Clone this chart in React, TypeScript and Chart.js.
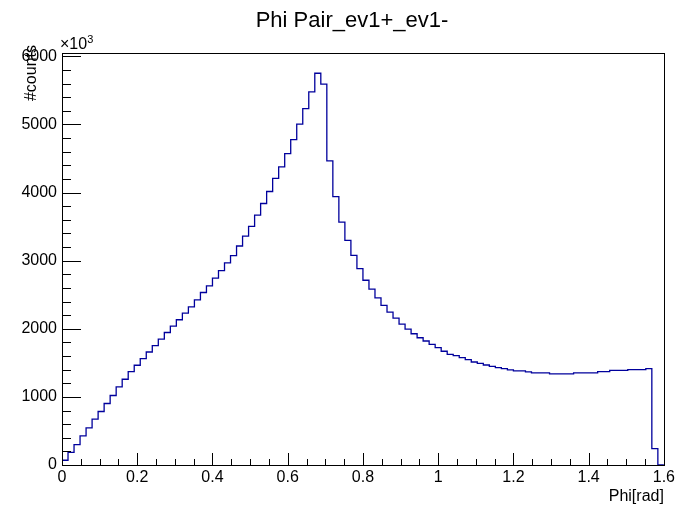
import React, { useEffect, useRef } from "react";
import { Chart, registerables } from "chart.js";

Chart.register(...registerables);

const TITLE = "Phi Pair_ev1+_ev1-";
const X_TITLE = "Phi[rad]";
const Y_TITLE = "#counts";
const Y_EXPONENT = "3";

const X_MIN = 0;
const X_MAX = 1.6;
const BIN_WIDTH = 0.016;
const Y_MIN = 0;
const Y_MAX = 6048;

const X_TICKS = [0, 0.2, 0.4, 0.6, 0.8, 1, 1.2, 1.4, 1.6];
const X_MINOR_STEP = 0.05;
const Y_TICKS = [0, 1000, 2000, 3000, 4000, 5000, 6000];
const Y_MINOR_STEP = 200;

const COUNTS = [
  70, 185, 298, 429, 546, 673, 785, 903, 1020, 1146,
  1259, 1371, 1464, 1561, 1659, 1751, 1849, 1945, 2039, 2132,
  2229, 2322, 2425, 2532, 2629, 2742, 2854, 2966, 3073, 3215,
  3361, 3503, 3668, 3839, 4015, 4208, 4376, 4571, 4776, 5005,
  5230, 5478, 5751, 5591, 4464, 3940, 3566, 3298, 3078, 2883,
  2712, 2581, 2454, 2342, 2244, 2156, 2068, 1995, 1927, 1868,
  1820, 1771, 1722, 1670, 1624, 1605, 1576, 1546, 1512, 1493,
  1468, 1449, 1429, 1415, 1395, 1381, 1381, 1366, 1351, 1351,
  1351, 1337, 1337, 1337, 1337, 1351, 1351, 1351, 1351, 1371,
  1371, 1390, 1390, 1390, 1400, 1400, 1400, 1415, 240, 0,
];

const FONT = "'Liberation Sans', Arial, Helvetica, sans-serif";
const LINE_COLOR = "#00009c";

const rootStylePlugin = {
  id: "rootStyle",
  afterDraw(chart: any) {
    const { ctx, chartArea } = chart;
    const xs = chart.scales.x;
    const ys = chart.scales.y;
    const L = chartArea.left;
    const R = chartArea.right;
    const T = chartArea.top;
    const B = chartArea.bottom;
    ctx.save();
    ctx.strokeStyle = "#000";
    ctx.lineWidth = 1;
    // frame
    ctx.strokeRect(Math.round(L) + 0.5, Math.round(T) + 0.5, Math.round(R - L), Math.round(B - T));
    // x ticks (inside, from bottom)
    ctx.beginPath();
    const nx = Math.round((X_MAX - X_MIN) / X_MINOR_STEP);
    for (let i = 0; i <= nx; i++) {
      const v = X_MIN + i * X_MINOR_STEP;
      const px = Math.round(xs.getPixelForValue(v)) + 0.5;
      const major = i % 4 === 0;
      const len = major ? 12 : 6;
      ctx.moveTo(px, B);
      ctx.lineTo(px, B - len);
    }
    // y ticks (inside, from left)
    const ny = Math.floor((Y_MAX - Y_MIN) / Y_MINOR_STEP);
    for (let i = 0; i <= ny; i++) {
      const v = Y_MIN + i * Y_MINOR_STEP;
      const py = Math.round(ys.getPixelForValue(v)) + 0.5;
      const major = i % 5 === 0;
      const len = major ? 19 : 9;
      ctx.moveTo(L, py);
      ctx.lineTo(L + len, py);
    }
    ctx.stroke();

    ctx.fillStyle = "#000";
    // title
    ctx.font = `22px ${FONT}`;
    ctx.textAlign = "center";
    ctx.textBaseline = "alphabetic";
    ctx.fillText(TITLE, 352, 27);
    // x title
    ctx.font = `16px ${FONT}`;
    ctx.textAlign = "right";
    ctx.fillText(X_TITLE, R, 501);
    // y exponent
    ctx.textAlign = "left";
    ctx.fillText("\u00d710", L - 2, 49);
    const w = ctx.measureText("\u00d710").width;
    ctx.font = `11px ${FONT}`;
    ctx.fillText(Y_EXPONENT, L - 2 + w, 43);
    // y title
    ctx.font = `16px ${FONT}`;
    ctx.translate(36, T - 8);
    ctx.rotate(-Math.PI / 2);
    ctx.textAlign = "right";
    ctx.textBaseline = "alphabetic";
    ctx.fillText(Y_TITLE, 0, 0);
    ctx.restore();
  },
};

export default function App() {
  const ref = useRef<HTMLCanvasElement | null>(null);

  useEffect(() => {
    if (!ref.current) return;
    const points = COUNTS.map((v, i) => ({ x: X_MIN + i * BIN_WIDTH, y: v }));
    points.push({ x: X_MIN + COUNTS.length * BIN_WIDTH, y: COUNTS[COUNTS.length - 1] });

    const chart = new Chart(ref.current, {
      type: "line",
      data: {
        datasets: [
          {
            data: points,
            stepped: "before",
            borderColor: LINE_COLOR,
            borderWidth: 1.3,
            pointRadius: 0,
            fill: false,
            tension: 0,
          },
        ],
      },
      options: {
        animation: false,
        responsive: false,
        devicePixelRatio: 1,
        events: [],
        layout: { padding: { top: 53, right: 10, left: 0, bottom: 0 } },
        plugins: {
          legend: { display: false },
          title: { display: false },
          tooltip: { enabled: false },
        },
        scales: {
          x: {
            type: "linear",
            min: X_MIN,
            max: X_MAX,
            position: "bottom",
            grid: { display: false, drawTicks: false },
            border: { display: false },
            ticks: {
              color: "#000",
              font: { family: FONT, size: 16 },
              padding: 3,
              maxRotation: 0,
              autoSkip: false,
              includeBounds: false,
              callback: (v: any) => String(Math.round(Number(v) * 10) / 10),
            },
            afterBuildTicks: (s: any) => {
              s.ticks = X_TICKS.map((v) => ({ value: v }));
            },
            afterFit: (s: any) => {
              s.height = 42;
            },
          },
          y: {
            type: "linear",
            min: Y_MIN,
            max: Y_MAX,
            grid: { display: false, drawTicks: false },
            border: { display: false },
            ticks: {
              color: "#000",
              font: { family: FONT, size: 16 },
              padding: 5,
              includeBounds: false,
              callback: (v: any) => String(v),
            },
            afterBuildTicks: (s: any) => {
              s.ticks = Y_TICKS.map((v) => ({ value: v }));
            },
            afterFit: (s: any) => {
              s.width = 62;
            },
          },
        },
      },
      plugins: [rootStylePlugin],
    });
    return () => chart.destroy();
  }, []);

  return (
    <div style={{ position: "fixed", left: 0, top: 0, width: 678, height: 507, background: "#fff" }}>
      <canvas ref={ref} width={678} height={507} style={{ display: "block" }} />
    </div>
  );
}
